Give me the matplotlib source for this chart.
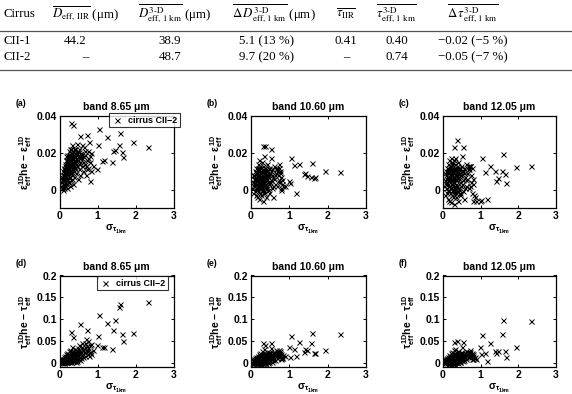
import matplotlib
matplotlib.use("Agg")
import matplotlib.pyplot as plt
from matplotlib.lines import Line2D

plt.rcParams['font.family'] = ['Liberation Sans', 'DejaVu Sans']
plt.rcParams['mathtext.fontset'] = 'custom'
plt.rcParams['mathtext.rm'] = 'Liberation Sans:bold'
plt.rcParams['mathtext.it'] = 'Liberation Sans:bold'
plt.rcParams['mathtext.bf'] = 'Liberation Sans:bold'

# ---------------- table data ----------------
table_headers = [
    "Cirrus",
    r"$\overline{D_{\mathrm{eff,\,IIR}}}$ (μm)",
    r"$\overline{D^{\mathrm{3‐D}}_{\mathrm{eff,\,1\ km}}}$ (μm)",
    r"$\overline{\Delta\, D^{\mathrm{3‐D}}_{\mathrm{eff,\,1\ km}}}$ (μm)",
    r"$\overline{\tau_{\mathrm{IIR}}}$",
    r"$\overline{\tau^{\mathrm{3‐D}}_{\mathrm{eff,\,1\ km}}}$",
    r"$\overline{\Delta\,\tau^{\mathrm{3‐D}}_{\mathrm{eff,\,1\ km}}}$",
]
table_rows = [
    ["CII-1", "44.2", "38.9", "5.1 (13 %)", "0.41", "0.40", "−0.02 (−5 %)"],
    ["CII-2", "–", "48.7", "9.7 (20 %)", "–", "0.74", "−0.05 (−7 %)"],
]

# ---------------- scatter data ----------------
x_sigma = [
    0.03, 0.05, 0.06, 0.07, 0.08, 0.09, 0.10, 0.10, 0.11, 0.12,
    0.12, 0.13, 0.14, 0.14, 0.15, 0.15, 0.16, 0.17, 0.17, 0.18,
    0.18, 0.19, 0.20, 0.20, 0.21, 0.21, 0.22, 0.22, 0.23, 0.24,
    0.24, 0.25, 0.25, 0.26, 0.27, 0.27, 0.28, 0.28, 0.29, 0.30,
    0.30, 0.31, 0.32, 0.32, 0.33, 0.34, 0.35, 0.35, 0.36, 0.37,
    0.38, 0.39, 0.40, 0.41, 0.42, 0.43, 0.44, 0.45, 0.46, 0.47,
    0.48, 0.50, 0.51, 0.52, 0.54, 0.55, 0.57, 0.58, 0.60, 0.62,
    0.64, 0.66, 0.68, 0.70, 0.72, 0.74, 0.76, 0.78, 0.80, 0.84,
    0.06, 0.09, 0.13, 0.16, 0.19, 0.23, 0.26, 0.29, 0.33, 0.36,
    0.40, 0.44, 0.48, 0.53, 0.58, 0.63, 0.69, 0.75, 0.82, 0.88,
    1.04, 1.12, 1.17, 1.26, 1.38, 1.41, 1.46, 1.56, 1.59, 1.65,
    1.66, 1.94, 2.33, 0.99, 0.79, 1.01, 0.30, 0.36, 0.53, 0.73,
    0.08, 0.11, 0.13, 0.15, 0.17, 0.18, 0.20, 0.22, 0.23, 0.25,
    0.26, 0.28, 0.29, 0.31, 0.33, 0.34, 0.36, 0.38, 0.40, 0.42,
    0.12, 0.14, 0.16, 0.19, 0.21, 0.24, 0.27, 0.30, 0.32, 0.35,
    0.37, 0.39, 0.43, 0.46, 0.50, 0.56, 0.61, 0.67, 0.73, 0.79,
]

eps_865 = [
    0.002, 0.004, 0.001, 0.006, 0.003, 0.008, 0.002, 0.010, 0.005, 0.012,
    0.001, 0.008, 0.014, 0.004, 0.011, 0.002, 0.016, 0.007, 0.013, 0.003,
    0.018, 0.010, 0.006, 0.015, 0.001, 0.019, 0.012, 0.008, 0.017, 0.004,
    0.021, 0.011, 0.014, 0.007, 0.018, 0.002, 0.013, 0.022, 0.009, 0.016,
    0.005, 0.019, 0.012, 0.024, 0.008, 0.017, 0.014, 0.003, 0.021, 0.010,
    0.018, 0.007, 0.015, 0.022, 0.012, 0.019, 0.009, 0.016, 0.025, 0.013,
    0.006, 0.018, 0.011, 0.022, 0.015, 0.008, 0.020, 0.013, 0.017, 0.010,
    0.023, 0.014, 0.019, 0.008, 0.016, 0.021, 0.012, 0.026, 0.015, 0.010,
    0.007, 0.000, 0.011, 0.005, 0.014, 0.009, 0.016, 0.020, 0.011, 0.017,
    0.020, 0.014, 0.021, 0.017, 0.024, 0.018, 0.013, 0.017, 0.020, 0.013,
    0.0331, 0.0156, 0.0163, 0.0286, 0.0150, 0.0210, 0.0217, 0.0241, 0.0308, 0.0205,
    0.0177, 0.0259, 0.0232, 0.0114, 0.0045, 0.0241, 0.0364, 0.0353, 0.0290, 0.0295,
    0.006, 0.009, 0.003, 0.013, 0.010, 0.006, 0.012, 0.016, 0.004, 0.019,
    0.012, 0.009, 0.017, 0.014, 0.020, 0.006, 0.015, 0.012, 0.018, 0.016,
    0.007, 0.010, 0.012, 0.005, 0.016, 0.013, 0.010, 0.022, 0.015, 0.019,
    0.013, 0.022, 0.017, 0.020, 0.014, 0.019, 0.015, 0.021, 0.011, 0.018,
]

eps_1060 = [
    0.001, 0.004, -0.002, 0.006, 0.002, 0.008, -0.001, 0.005, 0.010, 0.003,
    -0.003, 0.007, 0.012, 0.001, 0.009, -0.004, 0.005, 0.014, 0.002, -0.001,
    0.010, 0.006, 0.003, 0.016, -0.005, 0.008, 0.011, 0.001, 0.005, -0.002,
    0.013, 0.007, 0.003, 0.010, -0.003, 0.006, 0.015, 0.001, 0.008, 0.004,
    -0.006, 0.011, 0.006, 0.002, 0.018, 0.009, -0.001, 0.005, 0.012, 0.003,
    0.008, -0.004, 0.006, 0.014, 0.001, 0.010, 0.004, 0.007, -0.002, 0.012,
    0.003, 0.009, 0.017, 0.005, 0.001, 0.011, -0.004, 0.007, 0.013, 0.003,
    0.009, 0.011, 0.002, 0.008, 0.012, 0.005, 0.010, 0.001, 0.003, 0.002,
    0.008, 0.002, 0.000, 0.009, 0.002, 0.009, 0.004, 0.000, 0.007, 0.001,
    0.010, 0.000, 0.008, 0.010, 0.002, 0.008, 0.012, 0.009, 0.005, 0.002,
    0.0172, 0.0135, -0.0019, 0.0141, 0.0083, 0.0089, 0.0074, 0.0070, 0.0144, 0.0061,
    0.0068, 0.0102, 0.0098, 0.0048, -0.0003, 0.0037, 0.0237, 0.0237, 0.0220, 0.0140,
    0.003, 0.006, 0.001, 0.008, 0.004, 0.011, 0.002, 0.007, 0.012, 0.004,
    0.009, 0.000, 0.006, 0.003, 0.010, -0.002, 0.007, 0.011, 0.002, 0.008,
    0.006, 0.009, 0.003, 0.012, 0.006, 0.001, 0.009, 0.007, 0.013, 0.004,
    0.008, 0.002, 0.006, 0.011, 0.004, 0.008, 0.006, 0.010, 0.004, 0.007,
]

eps_1205 = [
    0.002, 0.005, -0.003, 0.008, 0.001, 0.010, -0.002, 0.006, 0.012, 0.003,
    -0.005, 0.009, 0.014, 0.000, 0.011, -0.006, 0.006, 0.016, 0.002, -0.002,
    0.012, 0.007, 0.003, 0.017, -0.007, 0.009, 0.013, 0.001, 0.006, -0.003,
    0.015, 0.008, 0.003, 0.011, -0.004, 0.006, 0.016, 0.000, 0.009, 0.004,
    -0.008, 0.012, 0.006, 0.001, 0.017, 0.010, -0.002, 0.005, 0.013, 0.002,
    0.009, -0.006, 0.007, 0.015, 0.000, 0.011, 0.004, 0.008, -0.003, 0.013,
    0.002, 0.010, 0.018, 0.005, -0.001, 0.012, -0.005, 0.007, 0.014, 0.002,
    0.009, 0.013, 0.001, 0.011, 0.013, 0.004, 0.012, -0.002, 0.003, -0.004,
    0.009, 0.003, -0.001, 0.010, 0.001, 0.010, 0.004, -0.001, 0.008, -0.001,
    0.011, -0.002, 0.008, 0.010, 0.001, 0.006, 0.013, 0.008, -0.003, -0.006,
    0.0171, 0.0095, -0.0051, 0.0126, 0.0101, 0.0048, 0.0063, 0.0101, 0.0192, 0.0086,
    0.0038, 0.0124, 0.0129, -0.0060, -0.0060, -0.0058, 0.0234, 0.0269, 0.0234, 0.0130,
    0.004, 0.007, 0.000, 0.010, 0.005, 0.013, 0.001, 0.008, 0.014, 0.003,
    0.010, -0.002, 0.007, 0.002, 0.011, -0.004, 0.008, 0.012, 0.001, 0.009,
    0.007, 0.010, 0.002, 0.013, 0.006, 0.000, 0.010, 0.007, 0.014, 0.003,
    0.009, 0.001, 0.006, 0.012, 0.003, 0.009, 0.005, 0.011, 0.002, 0.006,
]

tau_865 = [
    0.001, 0.004, 0.000, 0.006, 0.002, 0.009, 0.001, 0.005, 0.012, 0.003,
    0.000, 0.008, 0.015, 0.004, 0.011, 0.001, 0.007, 0.019, 0.004, 0.002,
    0.013, 0.009, 0.005, 0.023, 0.001, 0.012, 0.017, 0.004, 0.009, 0.002,
    0.027, 0.013, 0.006, 0.018, 0.003, 0.010, 0.030, 0.005, 0.015, 0.008,
    0.002, 0.021, 0.012, 0.005, 0.035, 0.017, 0.004, 0.010, 0.026, 0.007,
    0.019, 0.003, 0.014, 0.031, 0.006, 0.022, 0.011, 0.017, 0.004, 0.028,
    0.009, 0.020, 0.040, 0.013, 0.006, 0.027, 0.010, 0.018, 0.035, 0.012,
    0.024, 0.045, 0.016, 0.030, 0.038, 0.020, 0.050, 0.015, 0.025, 0.042,
    0.008, 0.003, 0.002, 0.012, 0.004, 0.014, 0.008, 0.001, 0.020, 0.003,
    0.024, 0.002, 0.033, 0.021, 0.045, 0.030, 0.055, 0.033, 0.020, 0.028,
    0.110, 0.035, 0.035, 0.0915, 0.031, 0.075, 0.097, 0.128, 0.1357, 0.066,
    0.050, 0.068, 0.1395, 0.040, 0.025, 0.062, 0.070, 0.058, 0.089, 0.075,
    0.004, 0.008, 0.003, 0.011, 0.007, 0.014, 0.006, 0.010, 0.018, 0.008,
    0.015, 0.006, 0.020, 0.011, 0.024, 0.009, 0.018, 0.013, 0.022, 0.016,
    0.006, 0.010, 0.013, 0.008, 0.016, 0.020, 0.012, 0.025, 0.018, 0.013,
    0.021, 0.017, 0.026, 0.019, 0.030, 0.024, 0.028, 0.036, 0.026, 0.040,
]

tau_1060 = [
    0.000, 0.003, -0.002, 0.005, 0.001, 0.008, -0.001, 0.004, 0.010, 0.002,
    -0.003, 0.007, 0.013, 0.001, 0.009, -0.004, 0.005, 0.016, 0.002, 0.000,
    0.011, 0.007, 0.003, 0.020, -0.005, 0.009, 0.014, 0.002, 0.006, -0.002,
    0.023, 0.010, 0.004, 0.015, -0.003, 0.007, 0.027, 0.002, 0.012, 0.005,
    -0.004, 0.018, 0.009, 0.001, 0.031, 0.014, 0.000, 0.006, 0.022, 0.004,
    0.016, -0.002, 0.010, 0.025, 0.003, 0.018, 0.007, 0.013, 0.001, 0.021,
    0.005, 0.015, 0.033, 0.009, 0.002, 0.019, 0.006, 0.012, 0.025, 0.007,
    0.016, 0.028, 0.011, 0.020, 0.024, 0.013, 0.026, 0.008, 0.014, 0.018,
    0.006, 0.001, 0.000, 0.010, 0.002, 0.011, 0.005, -0.001, 0.016, 0.001,
    0.019, 0.000, 0.024, 0.014, 0.021, 0.019, 0.026, 0.021, 0.010, 0.016,
    0.0615, 0.032, 0.015, 0.048, 0.025, 0.032, 0.030, 0.046, 0.068, 0.023,
    0.021, 0.030, 0.065, 0.036, 0.010, 0.012, 0.045, 0.040, 0.046, 0.028,
    0.003, 0.007, 0.002, 0.009, 0.005, 0.012, 0.004, 0.008, 0.015, 0.006,
    0.012, 0.003, 0.016, 0.008, 0.019, 0.005, 0.013, 0.010, 0.017, 0.012,
    0.005, 0.008, 0.010, 0.006, 0.013, 0.016, 0.009, 0.020, 0.014, 0.010,
    0.017, 0.013, 0.019, 0.015, 0.022, 0.017, 0.019, 0.023, 0.018, 0.020,
]

tau_1205 = [
    0.001, 0.004, -0.001, 0.006, 0.002, 0.009, 0.000, 0.005, 0.011, 0.003,
    -0.002, 0.008, 0.014, 0.002, 0.010, -0.003, 0.006, 0.017, 0.003, 0.000,
    0.012, 0.008, 0.004, 0.021, -0.004, 0.010, 0.015, 0.002, 0.007, -0.001,
    0.024, 0.011, 0.005, 0.016, -0.002, 0.008, 0.028, 0.003, 0.013, 0.006,
    -0.003, 0.019, 0.010, 0.002, 0.032, 0.015, 0.001, 0.007, 0.023, 0.005,
    0.017, -0.001, 0.011, 0.027, 0.004, 0.019, 0.008, 0.014, 0.002, 0.022,
    0.006, 0.016, 0.035, 0.010, 0.003, 0.020, 0.007, 0.013, 0.026, 0.008,
    0.017, 0.024, 0.012, 0.021, 0.025, 0.014, 0.022, 0.009, 0.015, 0.012,
    0.007, 0.002, 0.001, 0.011, 0.003, 0.012, 0.006, 0.000, 0.017, 0.002,
    0.020, 0.001, 0.025, 0.015, 0.022, 0.020, 0.024, 0.018, 0.011, 0.008,
    0.063, 0.023, 0.003, 0.046, 0.026, 0.021, 0.026, 0.065, 0.099, 0.026,
    0.013, 0.036, 0.096, 0.036, 0.008, 0.020, 0.048, 0.050, 0.047, 0.030,
    0.004, 0.008, 0.002, 0.010, 0.006, 0.013, 0.004, 0.009, 0.016, 0.007,
    0.013, 0.003, 0.017, 0.009, 0.020, 0.006, 0.014, 0.011, 0.018, 0.013,
    0.006, 0.009, 0.011, 0.007, 0.014, 0.017, 0.010, 0.021, 0.015, 0.011,
    0.018, 0.014, 0.020, 0.016, 0.023, 0.018, 0.017, 0.022, 0.016, 0.019,
]

panel_labels = ["(a)", "(b)", "(c)", "(d)", "(e)", "(f)"]
band_titles = ["band 8.65 μm", "band 10.60 μm", "band 12.05 μm"]
legend_label = "cirrus CII−2"
eps_ticks = [0, 0.02, 0.04]
eps_ticklabels = ["0", "0.02", "0.04"]
tau_ticks = [0, 0.05, 0.1, 0.15, 0.2]
tau_ticklabels = ["0", "0.05", "0.1", "0.15", "0.2"]
x_ticks = [0, 1, 2, 3]

W, H = 572, 394
fig = plt.figure(figsize=(W / 100, H / 100), dpi=100)


def fx(px):
    return px / W


def fy(py):
    return 1 - py / H


# ---------------- table ----------------
serif = ['Liberation Serif', 'DejaVu Serif']
tsize = 9.3
col_x = [3, 85, 175, 274, 346, 396, 473]
hdr_y = 14
for i, h in enumerate(table_headers):
    fig.text(fx(col_x[i]), fy(hdr_y), h, ha='left' if i == 0 else 'center',
             va='center', fontsize=tsize, family=serif, weight='normal',
             math_fontfamily='stix')
val_x = [3, 75, 170, 267, 346, 397, 473]
row_y = [41, 57]
for r, row in enumerate(table_rows):
    for i, v in enumerate(row):
        xx = val_x[i]
        if v == "–":
            xx = col_x[i]
        fig.text(fx(xx), fy(row_y[r]), v, ha='left' if i == 0 else 'center',
                 va='center', fontsize=tsize, family=serif, weight='normal')
for ly in (31, 70):
    fig.add_artist(Line2D([0, 1], [fy(ly), fy(ly)], transform=fig.transFigure,
                          color='#555555', lw=0.9))

# ---------------- panels ----------------
lefts = [59.5, 251, 443]
rights = [173.5, 366, 556]
rows_tb = [(116, 208), (275.5, 367)]
ydata = [[eps_865, eps_1060, eps_1205], [tau_865, tau_1060, tau_1205]]

for r in range(2):
    top, bot = rows_tb[r]
    for c in range(3):
        ax = fig.add_axes([fx(lefts[c]), fy(bot), (rights[c] - lefts[c]) / W,
                           (bot - top) / H])
        ax.plot(x_sigma, ydata[r][c], linestyle='none', marker='x', color='black',
                markersize=3.6, markeredgewidth=0.7, label=legend_label)
        ax.set_xlim(0, 3)
        ax.set_xticks(x_ticks)
        ax.set_xticklabels([str(t) for t in x_ticks])
        if r == 0:
            ax.set_ylim(-0.01, 0.04)
            ax.set_yticks(eps_ticks)
            ax.set_yticklabels(eps_ticklabels)
            ylab = r'$\varepsilon^{1D}_{eff}$he $-$ $\varepsilon^{1D}_{eff}$'
        else:
            ax.set_ylim(-0.01, 0.2)
            ax.set_yticks(tau_ticks)
            ax.set_yticklabels(tau_ticklabels)
            ylab = r'$\tau^{1D}_{eff}$he $-$ $\tau^{1D}_{eff}$'
        ax.tick_params(direction='in', length=2.5, width=0.7, labelsize=7.5,
                       top=True, right=True, pad=2)
        for lab in ax.get_xticklabels() + ax.get_yticklabels():
            lab.set_fontweight('bold')
        for s in ax.spines.values():
            s.set_linewidth(0.9)
        ax.set_ylabel(ylab, fontsize=7.5, fontweight='bold', labelpad=2)
        ax.set_xlabel(r'$\sigma_{\tau_{1km}}$', fontsize=7.5, fontweight='bold',
                      labelpad=1.5)
        ax.set_title(band_titles[c], fontsize=7.5, fontweight='bold', pad=4)
        fig.text(fx(lefts[c] - 44), fy(top - 12), panel_labels[r * 3 + c],
                 fontsize=6.3, fontweight='bold', ha='left', va='center')
        if c == 0:
            anchor = (fx(180), fy(113)) if r == 0 else (fx(168), fy(276))
            leg = ax.legend(loc='upper right', bbox_to_anchor=anchor,
                            bbox_transform=fig.transFigure, borderaxespad=0,
                            frameon=True, fancybox=False,
                            edgecolor='black', handlelength=1.2,
                            handletextpad=0.6, borderpad=0.3,
                            prop={'weight': 'bold', 'size': 6.5})
            leg.get_frame().set_linewidth(0.8)

fig.savefig("out.png", dpi=100)
